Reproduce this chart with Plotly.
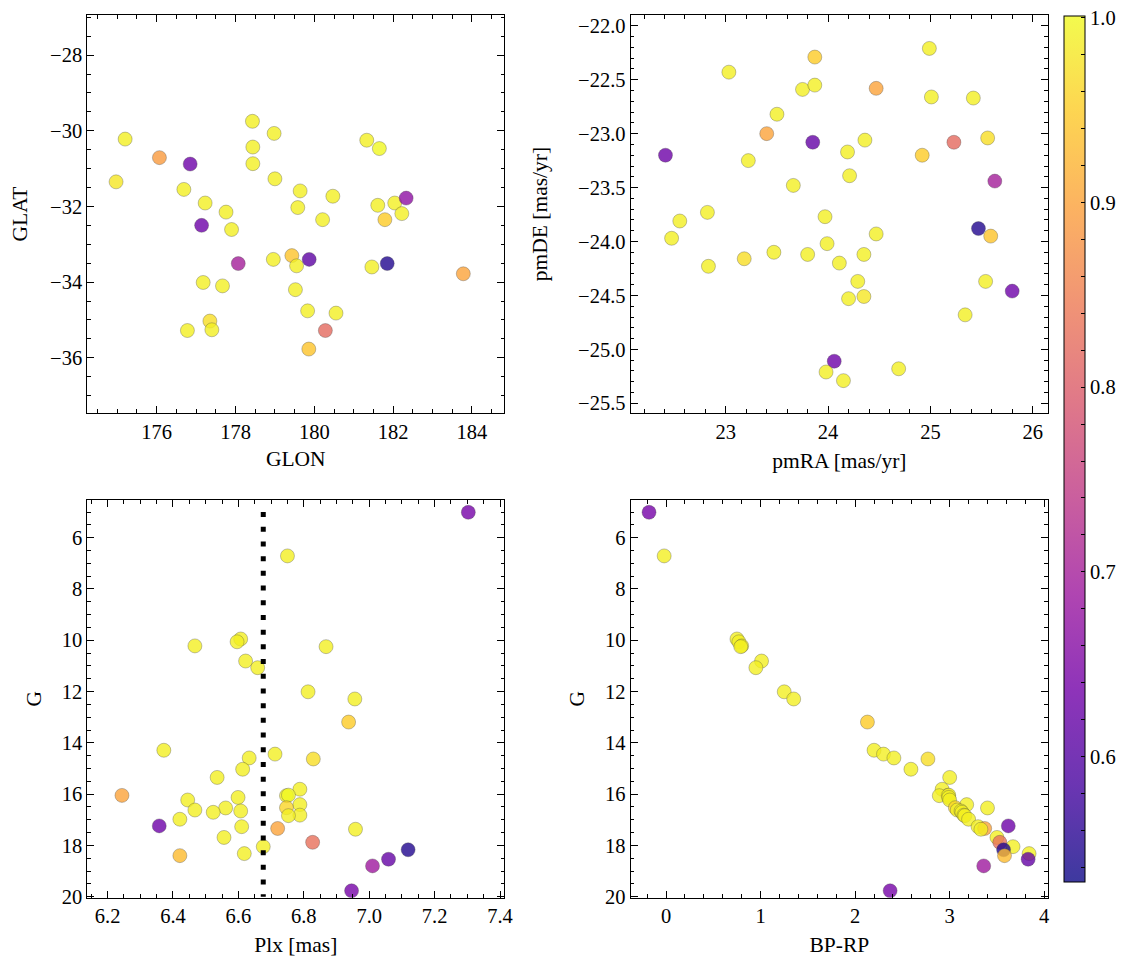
import plotly.graph_objects as go

# ---------------- data ----------------
# Top-left: galactic coordinates
glon = [175.20, 176.07, 176.85, 174.97, 176.69, 177.23, 177.76, 177.14, 177.90, 178.43,
        178.98, 178.44, 178.44, 179.00, 179.64, 179.58, 180.21, 180.47, 181.33, 181.65,
        181.61, 182.04, 182.33, 182.22, 181.79, 178.07, 178.96, 179.43, 179.55, 179.87,
        181.46, 181.85, 183.78, 177.18, 177.67, 179.52, 179.83, 180.55, 177.35, 177.40,
        176.78, 180.28, 179.86]
glat = [-30.22, -30.71, -30.88, -31.35, -31.55, -31.91, -32.15, -32.50, -32.61, -29.75,
        -30.07, -30.43, -30.87, -31.27, -31.59, -32.03, -32.35, -31.73, -30.25, -30.47,
        -31.97, -31.91, -31.78, -32.19, -32.35, -33.51, -33.40, -33.30, -33.57, -33.40,
        -33.60, -33.51, -33.78, -34.01, -34.10, -34.20, -34.76, -34.82, -35.03, -35.26,
        -35.28, -35.28, -35.77]
prob_tl = [0.99, 0.89, 0.63, 0.98, 0.99, 0.99, 0.99, 0.63, 0.99, 0.99,
           0.99, 0.99, 0.99, 0.99, 0.99, 0.99, 0.99, 0.99, 0.99, 1.00,
           0.99, 0.99, 0.67, 0.99, 0.95, 0.70, 0.99, 0.94, 0.99, 0.61,
           0.99, 0.55, 0.90, 0.99, 0.99, 0.99, 0.99, 0.99, 0.97, 0.99,
           0.99, 0.82, 0.94]

# Top-right: proper motions
pmra = [22.41, 23.03, 23.22, 23.40, 23.50, 23.66, 23.75, 23.87, 23.87, 23.85,
        23.97, 24.19, 24.21, 24.36, 24.47, 24.92, 24.99, 25.01, 25.23, 25.42,
        25.56, 25.63, 22.55, 22.82, 22.47, 22.83, 23.18, 23.47, 23.80, 23.99,
        24.11, 24.35, 24.47, 24.29, 24.20, 24.35, 25.47, 25.59, 25.54, 25.80,
        25.34, 24.06, 23.98, 24.15, 24.69]
pmde = [-23.20, -22.43, -23.25, -23.00, -22.82, -23.48, -22.59, -22.29, -22.55, -23.08,
        -23.77, -23.17, -23.39, -23.06, -22.58, -23.20, -22.21, -22.66, -23.08, -22.67,
        -23.04, -23.44, -23.81, -23.73, -23.97, -24.23, -24.16, -24.10, -24.12, -24.02,
        -24.20, -24.12, -23.93, -24.37, -24.53, -24.51, -23.88, -23.95, -24.37, -24.46,
        -24.68, -25.11, -25.21, -25.29, -25.18]
prob_tr = [0.63, 0.99, 0.99, 0.90, 0.99, 0.99, 0.99, 0.95, 0.99, 0.62,
           0.99, 0.99, 0.99, 0.99, 0.90, 0.95, 0.99, 0.99, 0.82, 0.99,
           0.97, 0.70, 0.99, 0.99, 0.99, 0.99, 0.97, 0.99, 0.99, 0.99,
           0.99, 0.99, 0.99, 0.99, 0.99, 0.98, 0.55, 0.94, 0.99, 0.63,
           0.99, 0.63, 0.99, 0.99, 0.99]

# Bottom panels: parallax, G magnitude, colour, membership probability
plx = [7.303, 6.750, 6.607, 6.596, 6.467, 6.868, 6.622, 6.659, 6.813, 6.956,
       6.937, 6.372, 6.712, 6.633, 6.829, 6.613, 6.535, 6.788, 6.244, 6.747,
       6.753, 6.599, 6.445, 6.788, 6.747, 6.561, 6.467, 6.607, 6.523, 6.788,
       6.753, 6.421, 6.358, 6.610, 6.720, 6.958, 6.556, 6.827, 6.676, 7.119,
       6.618, 6.421, 7.059, 7.010, 6.946]
gmag = [5.01, 6.71, 9.95, 10.06, 10.22, 10.25, 10.81, 11.07, 12.01, 12.29,
        13.19, 14.29, 14.44, 14.59, 14.63, 15.03, 15.35, 15.81, 16.05, 16.06,
        16.04, 16.13, 16.23, 16.41, 16.53, 16.54, 16.62, 16.66, 16.71, 16.82,
        16.84, 16.98, 17.24, 17.27, 17.34, 17.37, 17.69, 17.88, 18.05, 18.17,
        18.32, 18.40, 18.54, 18.80, 19.77]
bprp = [-0.18, -0.02, 0.75, 0.77, 0.80, 0.79, 1.01, 0.95, 1.25, 1.35,
        2.13, 2.20, 2.30, 2.41, 2.77, 2.59, 3.00, 2.92, 2.98, 2.89,
        2.99, 2.99, 3.00, 3.18, 3.06, 3.40, 3.08, 3.12, 3.13, 3.15,
        3.16, 3.20, 3.62, 3.30, 3.37, 3.33, 3.50, 3.53, 3.67, 3.57,
        3.84, 3.58, 3.83, 3.36, 2.37]
prob_b = [0.64, 0.99, 0.99, 0.99, 0.99, 0.99, 0.99, 0.99, 0.99, 0.99,
          0.95, 0.99, 0.99, 0.99, 0.97, 0.99, 0.99, 0.99, 0.90, 0.99,
          1.00, 0.99, 0.99, 0.99, 0.96, 0.99, 0.99, 0.99, 0.99, 0.99,
          0.99, 0.99, 0.63, 0.99, 0.90, 0.99, 0.99, 0.83, 0.99, 0.55,
          0.99, 0.93, 0.62, 0.69, 0.64]

plx_cut = 6.676
cmin, cmax = 0.532, 1.001
cbar_ticks = [0.54, 0.56, 0.58, 0.60, 0.62, 0.64, 0.66, 0.68, 0.70, 0.72, 0.74, 0.76,
              0.78, 0.80, 0.82, 0.84, 0.86, 0.88, 0.90, 0.92, 0.94, 0.96, 0.98, 1.00]

# ---------------- style ----------------
PAGE_W, PAGE_H = 1133, 965
OFF = 8  # default body margin of the html page
W, H = PAGE_W - 2 * OFF, PAGE_H - 2 * OFF
FONT = "Liberation Serif"
FS = 20.5
FT = 21.5

plasma = ['#0d0887', '#46039f', '#7201a8', '#9c179e', '#bd3786',
          '#d8576b', '#ed7953', '#fb9f3a', '#fdca26', '#f0f921']


def rgba(h, a=0.8):
    h = h.lstrip('#')
    return f"rgba({int(h[0:2],16)},{int(h[2:4],16)},{int(h[4:6],16)},{a})"


cscale = [[i / (len(plasma) - 1), rgba(c)] for i, c in enumerate(plasma)]


def px_x(x0, x1):
    return [(x0 - OFF) / W, (x1 - OFF) / W]


def px_y(y0, y1):
    return [1 - (y1 - OFF) / H, 1 - (y0 - OFF) / H]


dom_c1 = px_x(87.3, 504.3)
dom_c2 = px_x(630.7, 1048.0)
dom_r1 = px_y(15.0, 413.0)
dom_r2 = px_y(500.0, 897.7)

fig = go.Figure()


def add(x, y, c, xa, ya, show=False):
    marker = dict(size=14, color=c, colorscale=cscale, cmin=cmin, cmax=cmax,
                  line=dict(color="rgba(70,70,70,0.55)", width=0.6), showscale=show)
    if show:
        marker["colorbar"] = dict(
            x=(1064 - OFF) / W, xanchor="left", xpad=0, ypad=0,
            y=1 - (449 - OFF) / H, yanchor="middle",
            len=866 / H, lenmode="fraction",
            thickness=21, thicknessmode="pixels",
            outlinecolor="black", outlinewidth=1,
            ticks="inside", ticklen=4, tickcolor="black", tickwidth=1,
            ticklabeloverflow="allow",
            tickvals=cbar_ticks,
            ticktext=[f"{v:.1f}" if abs(v * 10 - round(v * 10)) < 1e-6 else "" for v in cbar_ticks],
            tickfont=dict(family=FONT, size=FS, color="black"),
        )
    fig.add_trace(go.Scatter(x=x, y=y, mode="markers", marker=marker,
                             xaxis=xa, yaxis=ya, showlegend=False, hoverinfo="skip"))


add(glon, glat, prob_tl, "x", "y", show=True)
add(pmra, pmde, prob_tr, "x2", "y2")
add(plx, gmag, prob_b, "x3", "y3")
add(bprp, gmag, prob_b, "x4", "y4")

fig.add_shape(type="line", xref="x3", yref="y3", x0=plx_cut, x1=plx_cut, y0=5.0, y1=20.0,
              line=dict(color="black", width=5, dash="5px,9.7px"), layer="above")


def ax(domain, anchor, rng, dtick, minor, title, fmt=None, standoff=10):
    d = dict(domain=domain, anchor=anchor, range=rng, dtick=dtick, tick0=0,
             showline=True, linecolor="black", linewidth=1.1, mirror="allticks",
             ticks="inside", ticklen=7, tickwidth=1, tickcolor="black",
             minor=dict(ticks="inside", ticklen=3.5, dtick=minor, tick0=0, tickcolor="black", tickwidth=1),
             showgrid=False, zeroline=False, automargin=False,
             tickfont=dict(family=FONT, size=FS, color="black"),
             title=dict(text=title, font=dict(family=FONT, size=FT, color="black"), standoff=standoff))
    if fmt:
        d["tickformat"] = fmt
    return d


fig.update_layout(
    width=W, height=H,
    margin=dict(l=0, r=0, t=0, b=0, autoexpand=False),
    paper_bgcolor="white", plot_bgcolor="white",
    font=dict(family=FONT, size=FS, color="black"),
    xaxis=ax(dom_c1, "y", [174.24, 184.82], 2, 0.5, "GLON", standoff=9),
    yaxis=ax(dom_r1, "x", [-37.46, -26.94], 2, 0.5, "GLAT", standoff=18),
    xaxis2=ax(dom_c2, "y2", [22.07, 26.15], 1, 0.2, "pmRA [mas/yr]", standoff=11),
    yaxis2=ax(dom_r1, "x2", [-25.59, -21.90], 0.5, 0.1, "pmDE [mas/yr]", fmt=".1f", standoff=24),
    xaxis3=ax(dom_c1, "y3", [6.138, 7.413], 0.2, 0.05, "Plx [mas]", fmt=".1f", standoff=11),
    yaxis3=ax(dom_r2, "x3", [20.04, 4.53], 2, 0.5, "G", standoff=14),
    xaxis4=ax(dom_c2, "y4", [-0.374, 4.04], 1, 0.2, "BP-RP", standoff=10),
    yaxis4=ax(dom_r2, "x4", [20.04, 4.53], 2, 0.5, "G", standoff=14),
)

fig.write_html("out.html")
